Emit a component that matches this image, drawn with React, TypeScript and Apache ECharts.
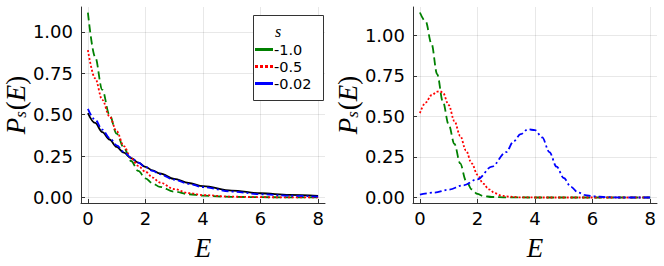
import React, { useEffect, useRef } from 'react';
import * as echarts from 'echarts';

// ---------- data ----------
const xTicks = [0, 2, 4, 6, 8];
const yTicks = [0, 0.25, 0.5, 0.75, 1.0];

// left panel
const eL = [0, 0.25, 0.5, 0.75, 1, 1.25, 1.5, 1.75, 2, 2.25, 2.5, 3, 3.5, 4, 5, 6, 7, 8];
const leftBlack = [0.51, 0.45, 0.395, 0.35, 0.305, 0.27, 0.237, 0.21, 0.185, 0.163, 0.145, 0.112, 0.087, 0.068, 0.041, 0.025, 0.015, 0.009];
const leftGreen = [1.117, 0.85, 0.65, 0.5, 0.385, 0.3, 0.22, 0.16, 0.115, 0.085, 0.063, 0.035, 0.019, 0.01, 0.003, 0.001, 0.0003, 0];
const leftRed = [0.89, 0.72, 0.59, 0.49, 0.4, 0.31, 0.237, 0.19, 0.155, 0.12, 0.09, 0.05, 0.026, 0.014, 0.004, 0.001, 0.0003, 0];
const leftBlue = [0.535, 0.47, 0.41, 0.36, 0.315, 0.275, 0.24, 0.21, 0.183, 0.16, 0.14, 0.107, 0.082, 0.062, 0.035, 0.019, 0.01, 0.005];

// right panel
const eRG = [0, 0.2, 0.4, 0.6, 0.8, 1.0, 1.2, 1.4, 1.6, 1.8, 2.0, 2.2, 2.5, 3, 4, 5, 6, 7, 8];
const rightGreen = [1.14, 1.085, 0.95, 0.76, 0.59, 0.45, 0.33, 0.21, 0.105, 0.05, 0.022, 0.009, 0.003, 0.0005, 0, 0, 0, 0, 0];
const eRR = [0, 0.2, 0.4, 0.6, 0.7, 0.8, 1.0, 1.2, 1.4, 1.6, 1.8, 2.0, 2.2, 2.4, 2.6, 2.8, 3.0, 3.5, 4, 5, 6, 7, 8];
const rightRed = [0.52, 0.585, 0.63, 0.652, 0.655, 0.645, 0.57, 0.47, 0.38, 0.29, 0.21, 0.14, 0.085, 0.05, 0.027, 0.013, 0.006, 0.001, 0, 0, 0, 0, 0];
const eRB = [0, 0.5, 1, 1.5, 2, 2.5, 3, 3.25, 3.5, 3.75, 4, 4.25, 4.5, 4.75, 5, 5.25, 5.5, 5.75, 6, 6.5, 7, 8];
const rightBlue = [0.018, 0.03, 0.048, 0.075, 0.112, 0.19, 0.28, 0.345, 0.39, 0.42, 0.415, 0.37, 0.28, 0.19, 0.12, 0.065, 0.03, 0.015, 0.007, 0.002, 0, 0];

const legendTitle = 's';
const legendLabels = ['-1.0', '-0.5', '-0.02'];

const GREEN = '#008000';
const RED = '#ff0000';
const BLUE = '#0000ff';

const pairs = (xs: number[], ys: number[]) => xs.map((x, i) => [x, ys[i]]);

const TICK_FONT = 'DejaVu Sans';
const MATH_FONT = 'Liberation Serif';

const richName = {
  i: { fontFamily: MATH_FONT, fontStyle: 'italic', fontSize: 27, color: '#000' },
  n: { fontFamily: MATH_FONT, fontSize: 27, color: '#000' },
  s: { fontFamily: MATH_FONT, fontStyle: 'italic', fontSize: 17, color: '#000', verticalAlign: 'bottom', padding: [10, 1, 0, 0] },
};

function xAxis(gridIndex: number) {
  return {
    type: 'value',
    gridIndex,
    min: -0.24,
    max: 8.24,
    splitNumber: 4,
    minInterval: 2,
    maxInterval: 2,
    name: '{i|E}',
    nameLocation: 'middle',
    nameGap: 31,
    nameTextStyle: { rich: richName },
    axisLine: { show: true, onZero: false, lineStyle: { color: '#333', width: 1 } },
    axisTick: { show: true, inside: true, length: 4, customValues: xTicks, lineStyle: { color: '#333' } },
    axisLabel: {
      customValues: xTicks,
      showMinLabel: true,
      showMaxLabel: true,
      margin: 6,
      fontFamily: TICK_FONT,
      fontSize: 18,
      color: '#000',
      formatter: (v: number) => String(v),
    },
    splitLine: { show: true, lineStyle: { color: 'rgba(0,0,0,0.09)', width: 1 } },
  };
}

function yAxis(gridIndex: number, max: number) {
  return {
    type: 'value',
    gridIndex,
    min: -0.034,
    max,
    splitNumber: 5,
    minInterval: 0.25,
    maxInterval: 0.25,
    name: '{i|P}{s|s}{n|(}{i|E}{n|)}',
    nameLocation: 'middle',
    nameGap: 50,
    nameTextStyle: { rich: richName },
    axisLine: { show: true, onZero: false, lineStyle: { color: '#333', width: 1 } },
    axisTick: { show: true, inside: true, length: 4, customValues: yTicks, lineStyle: { color: '#333' } },
    axisLabel: {
      customValues: yTicks,
      margin: 8,
      fontFamily: TICK_FONT,
      fontSize: 18,
      color: '#000',
      formatter: (v: number) => v.toFixed(2),
    },
    splitLine: { show: true, lineStyle: { color: 'rgba(0,0,0,0.09)', width: 1 } },
  };
}

function line(name: string, data: number[][], color: string, type: any, width: number, xi: number) {
  return {
    type: 'line',
    name,
    xAxisIndex: xi,
    yAxisIndex: xi,
    data,
    showSymbol: false,
    symbol: 'none',
    smooth: 0.35,
    smoothMonotone: 'x',
    lineStyle: { color, width, type },
    z: 3,
  };
}

const DASH = [8, 4];
const DOT = [2, 2];
const DASHDOT = [7, 3, 2, 3];

export default function App() {
  const ref = useRef<HTMLDivElement>(null);
  useEffect(() => {
    const chart = echarts.init(ref.current!, null, { renderer: 'svg' });
    const lx = 253, ly = 15, lw = 70, lh = 85;
    const rowY = [49.5, 66.5, 83.5];
    const cols = [GREEN, RED, BLUE];
    const legendGraphics: any[] = [
      { type: 'rect', shape: { x: lx + 0.5, y: ly + 0.5, width: lw, height: lh }, style: { fill: '#fff', stroke: '#333', lineWidth: 1 }, z: 10 },
      { type: 'text', x: 278, y: 31, style: { text: legendTitle, font: `italic 16px "${MATH_FONT}"`, lineHeight: 14, fill: '#000', align: 'center', verticalAlign: 'middle' }, z: 11 },
    ];
    legendLabels.forEach((t, i) => {
      legendGraphics.push({
        type: 'line',
        shape: { x1: 255, y1: rowY[i], x2: 273, y2: rowY[i] },
        style: { stroke: cols[i], lineWidth: 3, lineDash: i === 1 ? [3, 2] : null },
        z: 11,
      });
      legendGraphics.push({
        type: 'text',
        x: 274,
        y: rowY[i],
        style: { text: t, font: `14.5px "${TICK_FONT}"`, lineHeight: 14, fill: '#000', align: 'left', verticalAlign: 'middle' },
        z: 11,
      });
    });

    chart.setOption({
      animation: false,
      backgroundColor: '#fff',
      grid: [
        { left: 81, top: 7, width: 244, height: 200, containLabel: false },
        { left: 413, top: 7, width: 244, height: 200, containLabel: false },
      ],
      xAxis: [xAxis(0), xAxis(1)],
      yAxis: [yAxis(0, 1.151), yAxis(1, 1.174)],
      series: [
        line('black', pairs(eL, leftBlack), '#000', 'solid', 1.8, 0),
        line('-1.0', pairs(eL, leftGreen), GREEN, DASH, 1.8, 0),
        line('-0.5', pairs(eL, leftRed), RED, DOT, 1.8, 0),
        line('-0.02', pairs(eL, leftBlue), BLUE, DASHDOT, 1.8, 0),
        line('-1.0 r', pairs(eRG, rightGreen), GREEN, DASH, 1.8, 1),
        line('-0.5 r', pairs(eRR, rightRed), RED, DOT, 1.8, 1),
        line('-0.02 r', pairs(eRB, rightBlue), BLUE, DASHDOT, 1.8, 1),
      ],
      graphic: legendGraphics,
    });
    return () => chart.dispose();
  }, []);
  return <div ref={ref} style={{ position: 'fixed', left: 0, top: 0, width: 664, height: 266 }} />;
}
